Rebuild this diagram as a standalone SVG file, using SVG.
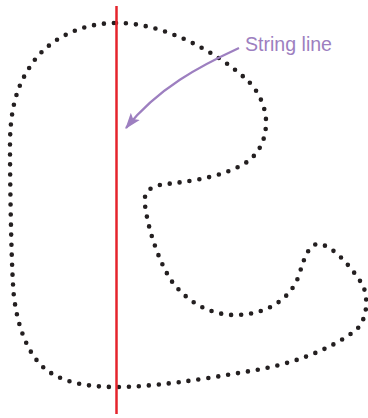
<svg xmlns="http://www.w3.org/2000/svg" width="368" height="418" viewBox="0 0 368 418">
<defs>
<style>
.dots{fill:none;stroke:#231f20;stroke-width:4.6;stroke-dasharray:0 10;stroke-linecap:round}
.string{stroke:#e5242c;stroke-width:2.5}
.callout{fill:none;stroke:#9d7fc0;stroke-width:2.2}
.label{font-family:"Liberation Sans",Arial,sans-serif;font-size:20px;fill:#9d7fc0}
</style>
<marker id="ah" viewBox="0 0 14 10" markerUnits="userSpaceOnUse" markerWidth="16" markerHeight="12" refX="13" refY="5" orient="auto">
<path d="M0,0 L14,5 L0,10 L3,5 Z" fill="#9d7fc0"/>
</marker>
</defs>
<rect width="368" height="418" fill="#fff"/>
<g id="outline">
<path class="dots" d="M116,23 C160,22 215,50 247,80 C258,90 267,108 266,125 C265,145 255,160 236,168 C210,180 180,182 160,185 C148,187 143,195 145,205 C148,230 160,265 173,283 C188,302 210,315 235,315 C265,315 292,300 300,272 C305,255 310,244 318,244 C332,244 352,268 362,284 C368,294 369,318 356,330 C330,350 290,365 250,371 C200,380 150,387 117,387 C80,387 55,380 40,364 C22,345 14,310 13,284 C11,250 10,180 10,145 C10,115 15,90 28,70 C45,40 80,23 116,23 Z"/>
</g>
<g id="string-line">
<line class="string" x1="116.5" y1="6" x2="116.5" y2="414"/>
</g>
<g id="connectors">
<path class="callout" d="M239,48 C200,66 158,88 126,128" marker-end="url(#ah)"/>
</g>
<g id="label">
<text class="label" x="245" y="51" textLength="87" lengthAdjust="spacingAndGlyphs">String line</text>
</g>
</svg>
